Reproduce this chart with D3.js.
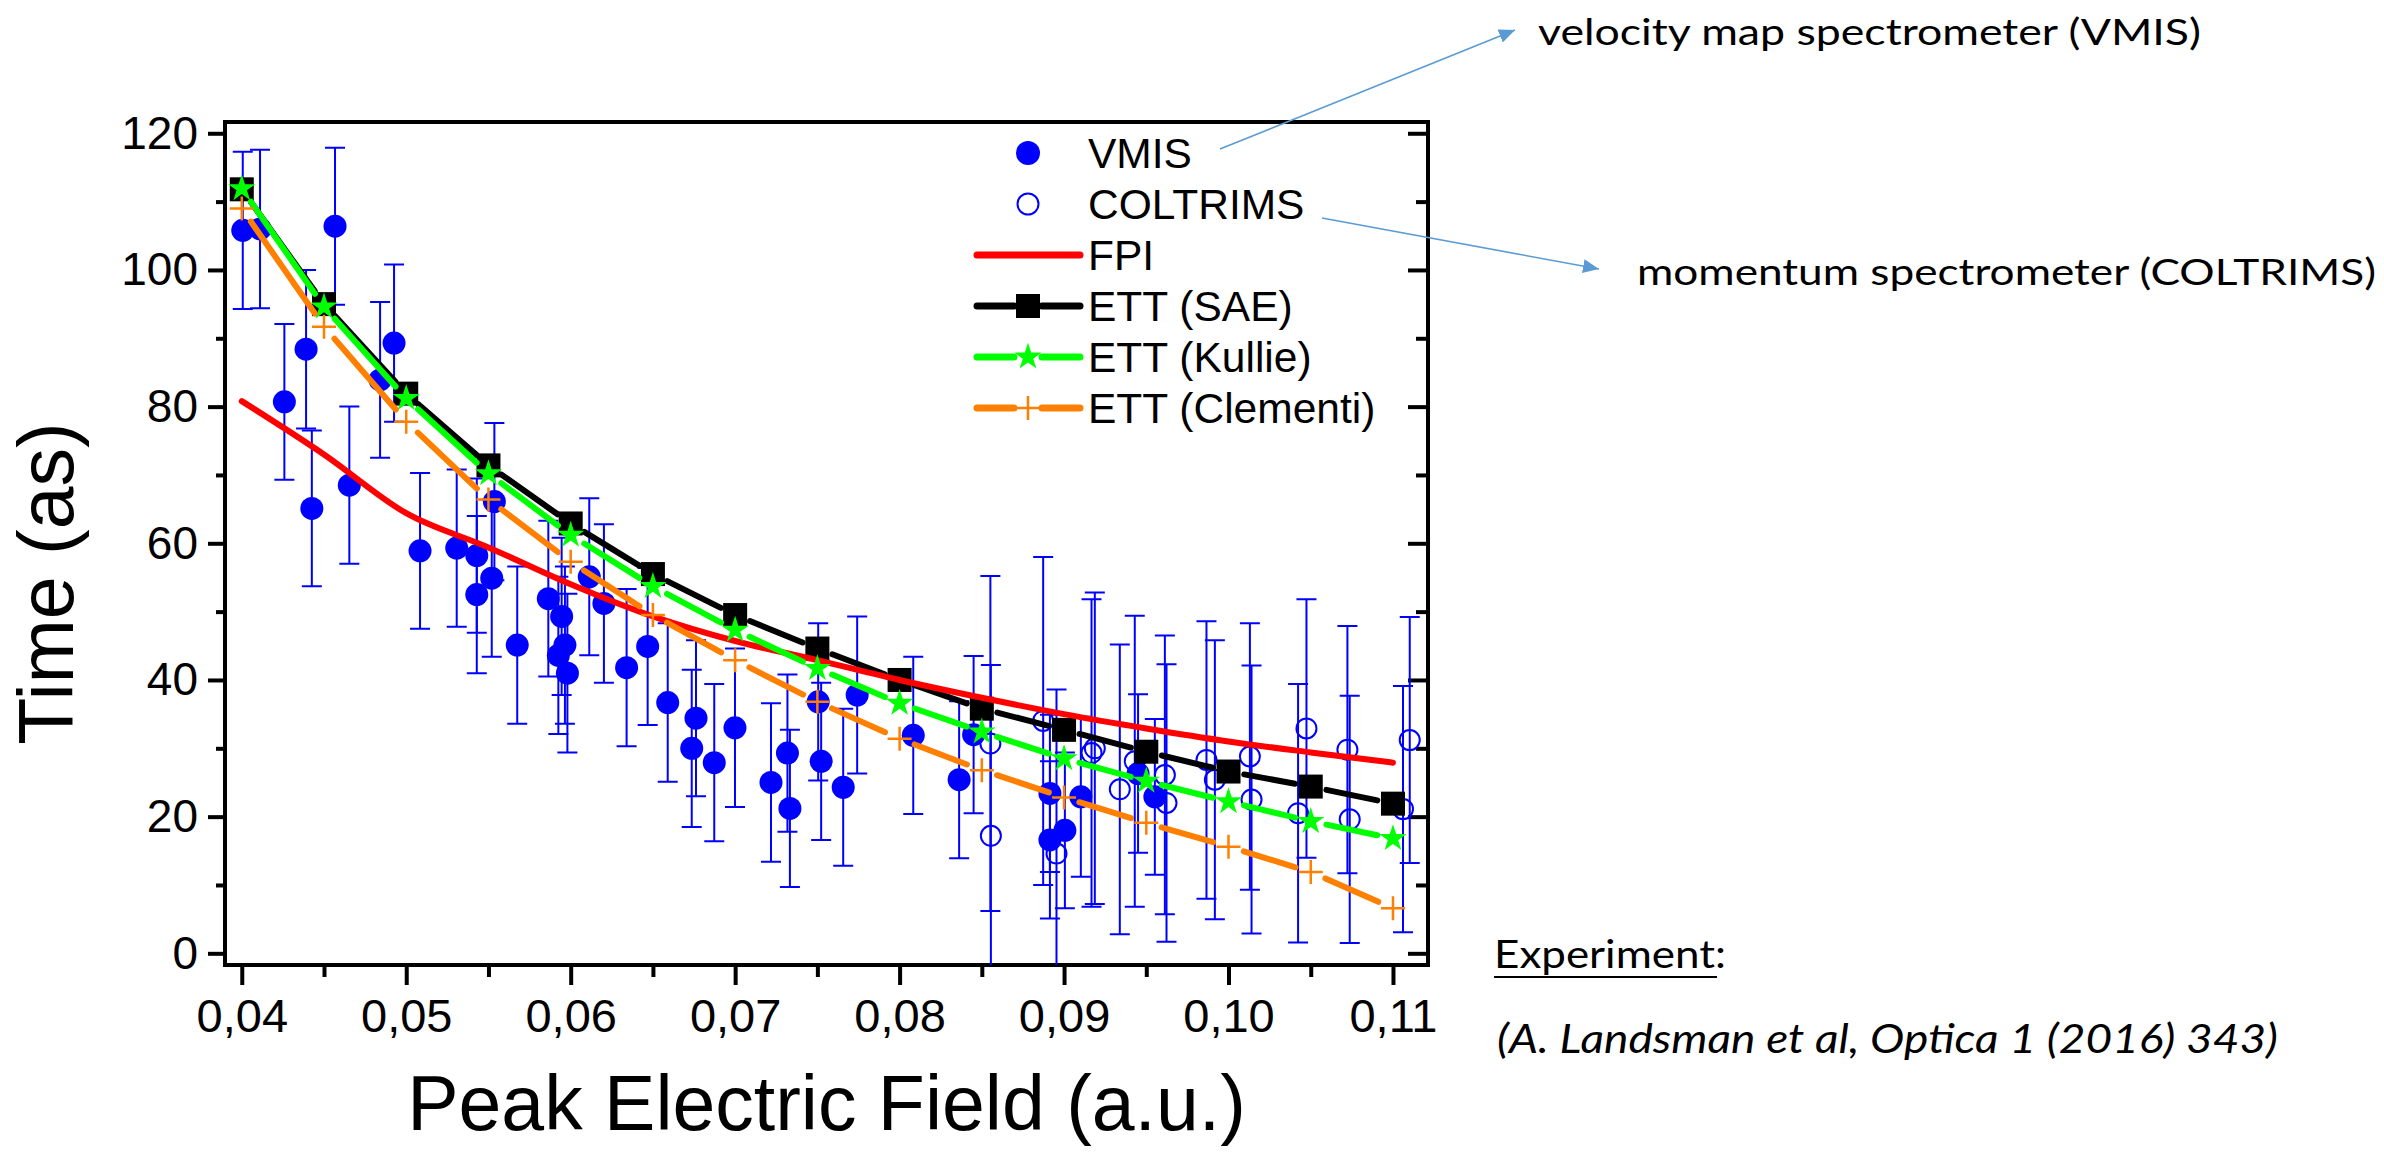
<!DOCTYPE html>
<html>
<head>
<meta charset="utf-8">
<script src="https://cdn.jsdelivr.net/npm/d3@7"></script>
<style>
  body { margin: 0; background: #fff; }
  svg { display: block; }
</style>
</head>
<body>
<svg id="chart" width="2384" height="1153"></svg>
<script>
// ---- data ----
// theory curves, all on the same field grid
var fieldTheory = [0.040, 0.045, 0.050, 0.055, 0.060, 0.065, 0.070, 0.075,
                   0.080, 0.085, 0.090, 0.095, 0.100, 0.105, 0.110];
var fpiTime      = [80.8, 73.0, 64.4, 59.4, 54.0, 49.3, 45.7, 42.9, 40.0, 37.4, 35.0, 32.9, 31.0, 29.4, 27.9];
var ettSae       = [111.8, 95.0, 81.9, 71.4, 62.9, 55.5, 49.5, 44.6, 40.0, 35.8, 32.7, 29.5, 26.6, 24.4, 21.9];
var ettKullie    = [111.9, 94.6, 81.2, 70.2, 61.2, 53.7, 47.3, 41.7, 36.6, 32.4, 28.5, 25.2, 22.2, 19.3, 16.8];
var ettClementi  = [109.0, 91.7, 77.8, 66.4, 57.3, 49.5, 42.9, 36.8, 31.4, 26.8, 22.8, 19.1, 15.6, 11.9, 6.6];

// VMIS (filled circles)
var vmisField = [0.04006, 0.04111, 0.04567, 0.04391, 0.04259, 0.04426, 0.04926, 0.04841, 0.04654,
                 0.05084, 0.05307, 0.05429, 0.05429, 0.05536, 0.05520, 0.05675, 0.05864, 0.05945,
                 0.05925, 0.05965, 0.05980, 0.06113, 0.06202, 0.06340, 0.06468, 0.06590, 0.06762,
                 0.06736, 0.06873, 0.06999, 0.07218, 0.07318, 0.07333, 0.07505, 0.07523, 0.07657,
                 0.07742, 0.08083, 0.08362, 0.08450, 0.08914, 0.08914, 0.09005, 0.09102, 0.09450,
                 0.09552];
var vmisTime  = [105.8, 106.0, 106.4, 88.4, 80.7, 65.1, 89.3, 83.9, 68.5,
                 58.9, 59.3, 58.2, 52.5, 66.1, 54.9, 45.1, 51.9, 49.3,
                 43.6, 45.1, 41.0, 55.1, 51.2, 41.8, 44.9, 36.7, 34.4,
                 30.0, 27.9, 33.0, 25.0, 29.3, 21.2, 36.8, 28.1, 24.3,
                 37.8, 31.9, 25.4, 32.0, 23.4, 16.6, 18.0, 22.9, 26.3,
                 22.9];
var vmisErr   = [11.5, 11.6, 11.5, 11.6, 11.4, 11.4, 11.5, 11.4, 11.5,
                 11.4, 11.5, 11.3, 11.5, 11.5, 11.5, 11.5, 11.4, 11.5,
                 11.5, 11.5, 11.6, 11.5, 11.6, 11.5, 11.5, 11.6, 11.4,
                 11.5, 11.5, 11.6, 11.6, 11.5, 11.5, 11.5, 11.5, 11.5,
                 11.5, 11.5, 11.5, 11.5, 11.5, 11.5, 11.4, 11.7, 11.6,
                 11.4];

// COLTRIMS (open circles)
var coltField = [0.08552, 0.08555, 0.08873, 0.08954, 0.09167, 0.09187, 0.09339, 0.09430, 0.09613, 0.09623,
                 0.09866, 0.09917, 0.10130, 0.10140, 0.10423, 0.10474, 0.10723, 0.10737, 0.11061, 0.11102];
var coltTime  = [30.7, 17.2, 34.0, 14.6, 29.3, 30.0, 24.0, 28.1, 26.1, 22.0,
                 28.3, 25.4, 28.8, 22.5, 20.5, 32.9, 29.8, 19.6, 21.1, 31.2];
var coltErr   = [24.5, 25.0, 24.0, 24.0, 22.5, 22.8, 21.2, 21.3, 20.4, 20.3,
                 20.3, 20.4, 19.5, 19.6, 18.9, 18.9, 18.1, 18.1, 18.0, 18.0];

var xTicks = [0.04, 0.05, 0.06, 0.07, 0.08, 0.09, 0.10, 0.11];
var xMinor = [0.045, 0.055, 0.065, 0.075, 0.085, 0.095, 0.105];
var yTicks = [0, 20, 40, 60, 80, 100, 120];
var yMinor = [10, 30, 50, 70, 90, 110];

var legendLabels = ["VMIS", "COLTRIMS", "FPI", "ETT (SAE)", "ETT (Kullie)", "ETT (Clementi)"];

// ---- setup ----
var blue = "#0000ff", red = "#ff0000", green = "#00ff00", orange = "#ff8000";
var font = "'Liberation Sans', Arial, sans-serif";
var svg = d3.select("#chart");

var plot = {left: 225, right: 1428, top: 122, bottom: 965};
var x = d3.scaleLinear().domain([0.03898, 0.11213]).range([plot.left, plot.right]);
var y = d3.scaleLinear().domain([-1.71, 121.65]).range([plot.bottom, plot.top]);

svg.append("defs").append("clipPath").attr("id", "plotclip")
  .append("rect")
  .attr("x", plot.left).attr("y", plot.top)
  .attr("width", plot.right - plot.left).attr("height", plot.bottom - plot.top);

var comma = d3.formatLocale({decimal: ",", thousands: ".", grouping: [3], currency: ["", ""]}).format(".2f");

function styleAxis(g, size){
  g.select(".domain").remove();
  g.selectAll(".tick line").attr("stroke", "#000").attr("stroke-width", 4);
  g.attr("font-family", font).attr("font-size", size);
  g.selectAll(".tick text").attr("fill", "#000");
}

// bottom axis
svg.append("g").attr("transform", "translate(0," + plot.bottom + ")")
  .call(d3.axisBottom(x).tickValues(xTicks).tickSize(20).tickPadding(14).tickFormat(comma))
  .call(styleAxis, 47);
svg.append("g").attr("transform", "translate(0," + plot.bottom + ")")
  .call(d3.axisBottom(x).tickValues(xMinor).tickSize(12).tickFormat(""))
  .call(styleAxis, 47);

// left axis
svg.append("g").attr("transform", "translate(" + plot.left + ",0)")
  .call(d3.axisLeft(y).tickValues(yTicks).tickSize(17).tickPadding(10))
  .call(styleAxis, 46);
svg.append("g").attr("transform", "translate(" + plot.left + ",0)")
  .call(d3.axisLeft(y).tickValues(yMinor).tickSize(9).tickFormat(""))
  .call(styleAxis, 46);

// right axis, ticks pointing inward
svg.append("g").attr("transform", "translate(" + plot.right + ",0)")
  .call(d3.axisLeft(y).tickValues(yTicks).tickSize(20).tickFormat(""))
  .call(styleAxis, 46);
svg.append("g").attr("transform", "translate(" + plot.right + ",0)")
  .call(d3.axisLeft(y).tickValues(yMinor).tickSize(12).tickFormat(""))
  .call(styleAxis, 46);

// frame
svg.append("rect")
  .attr("x", plot.left).attr("y", plot.top)
  .attr("width", plot.right - plot.left).attr("height", plot.bottom - plot.top)
  .attr("fill", "none").attr("stroke", "#000").attr("stroke-width", 4);

// axis titles
svg.append("text")
  .attr("x", (plot.left + plot.right) / 2).attr("y", 1130)
  .attr("text-anchor", "middle")
  .attr("font-family", font).attr("font-size", 77)
  .text("Peak Electric Field (a.u.)");
svg.append("text")
  .attr("transform", "translate(73," + ((plot.top + plot.bottom) / 2 + 40) + ") rotate(-90)")
  .attr("text-anchor", "middle")
  .attr("font-family", font).attr("font-size", 77)
  .text("Time (as)");

// ---- experimental points ----
var gData = svg.append("g").attr("clip-path", "url(#plotclip)");

function errorBars(g, xs, ys, es){
  var idx = d3.range(xs.length);
  var cap = 10;
  var bars = g.append("g").attr("stroke", blue).attr("stroke-width", 2).attr("fill", "none");
  bars.selectAll("path").data(idx).join("path")
    .attr("d", function(i){
      var px = x(xs[i]), hi = y(ys[i] + es[i]), lo = y(ys[i] - es[i]);
      return "M" + px + "," + hi + "V" + lo +
             "M" + (px - cap) + "," + hi + "H" + (px + cap) +
             "M" + (px - cap) + "," + lo + "H" + (px + cap);
    });
}

errorBars(gData, vmisField, vmisTime, vmisErr);
errorBars(gData, coltField, coltTime, coltErr);

gData.append("g").selectAll("circle").data(d3.range(vmisField.length)).join("circle")
  .attr("cx", function(i){ return x(vmisField[i]); })
  .attr("cy", function(i){ return y(vmisTime[i]); })
  .attr("r", 11.5).attr("fill", blue);

gData.append("g").selectAll("circle").data(d3.range(coltField.length)).join("circle")
  .attr("cx", function(i){ return x(coltField[i]); })
  .attr("cy", function(i){ return y(coltTime[i]); })
  .attr("r", 10).attr("fill", "none").attr("stroke", blue).attr("stroke-width", 2);

// ---- theory curves ----
var gap = 16;
function gappedSegments(xs, ys){
  var segs = [];
  for (var i = 0; i < xs.length - 1; i++){
    var x0 = x(xs[i]), y0 = y(ys[i]), x1 = x(xs[i + 1]), y1 = y(ys[i + 1]);
    var dx = x1 - x0, dy = y1 - y0, len = Math.sqrt(dx * dx + dy * dy);
    if (len <= 2 * gap) continue;
    var ux = dx / len, uy = dy / len;
    segs.push([[x0 + ux * gap, y0 + uy * gap], [x1 - ux * gap, y1 - uy * gap]]);
  }
  return segs;
}

var starSym = d3.symbol().type(d3.symbolStar).size(230);
var plusPath = "M-12,0H12M0,-12V12";

function markerFor(name){
  if (name === "sae") return function(sel){
    sel.append("rect").attr("x", -12).attr("y", -12).attr("width", 24).attr("height", 24).attr("fill", "#000");
  };
  if (name === "kullie") return function(sel){
    sel.append("path").attr("d", starSym()).attr("fill", green);
  };
  return function(sel){
    sel.append("path").attr("d", plusPath).attr("stroke", orange).attr("stroke-width", 2.5).attr("fill", "none");
  };
}

function ettSeries(values, color, name){
  var g = svg.append("g");
  g.selectAll("path.seg").data(gappedSegments(fieldTheory, values)).join("path")
    .attr("class", "seg")
    .attr("d", d3.line())
    .attr("stroke", color).attr("stroke-width", 6).attr("stroke-linecap", "round").attr("fill", "none");
  var m = g.selectAll("g.mk").data(fieldTheory).join("g")
    .attr("class", "mk")
    .attr("transform", function(d, i){ return "translate(" + x(d) + "," + y(values[i]) + ")"; });
  m.each(function(){ markerFor(name)(d3.select(this)); });
}

ettSeries(ettSae, "#000", "sae");

svg.append("path")
  .datum(fieldTheory)
  .attr("d", d3.line()
    .x(function(d){ return x(d); })
    .y(function(d, i){ return y(fpiTime[i]); })
    .curve(d3.curveMonotoneX))
  .attr("fill", "none").attr("stroke", red).attr("stroke-width", 6).attr("stroke-linecap", "round");

ettSeries(ettKullie, green, "kullie");
ettSeries(ettClementi, orange, "clementi");

// ---- legend ----
var legX0 = 977, legX1 = 1080, legMid = 1028, legText = 1088, legTop = 153, legStep = 51;
var leg = svg.append("g");
legendLabels.forEach(function(label, i){
  var cy = legTop + i * legStep;
  var row = leg.append("g").attr("transform", "translate(0," + cy + ")");
  if (i === 0){
    row.append("circle").attr("cx", legMid).attr("r", 12).attr("fill", blue);
  } else if (i === 1){
    row.append("circle").attr("cx", legMid).attr("r", 10.5).attr("fill", "none").attr("stroke", blue).attr("stroke-width", 2);
  } else if (i === 2){
    row.append("line").attr("x1", legX0).attr("x2", legX1)
      .attr("stroke", red).attr("stroke-width", 7).attr("stroke-linecap", "round");
  } else {
    var col = [null, null, null, "#000", green, orange][i];
    var name = [null, null, null, "sae", "kullie", "clementi"][i];
    row.append("line").attr("x1", legX0).attr("x2", legMid - gap + 2)
      .attr("stroke", col).attr("stroke-width", 7).attr("stroke-linecap", "round");
    row.append("line").attr("x1", legMid + gap - 2).attr("x2", legX1)
      .attr("stroke", col).attr("stroke-width", 7).attr("stroke-linecap", "round");
    var mk = row.append("g").attr("transform", "translate(" + legMid + ",0)");
    markerFor(name)(mk);
  }
  row.append("text").attr("x", legText).attr("y", 15)
    .attr("font-family", font).attr("font-size", 42.5).text(label);
});

// ---- annotations ----
var noteBlue = "#5b9bd5";
var noteFont = "Lato, 'Open Sans', sans-serif";
svg.select("defs").append("marker")
  .attr("id", "arrowhead").attr("markerUnits", "userSpaceOnUse")
  .attr("markerWidth", 18).attr("markerHeight", 14)
  .attr("refX", 16).attr("refY", 7).attr("orient", "auto")
  .append("path").attr("d", "M0,0L16,7L0,14Z").attr("fill", noteBlue);

svg.append("line").attr("x1", 1220).attr("y1", 149).attr("x2", 1515).attr("y2", 30)
  .attr("stroke", noteBlue).attr("stroke-width", 1.6).attr("marker-end", "url(#arrowhead)");
svg.append("line").attr("x1", 1322).attr("y1", 218).attr("x2", 1599).attr("y2", 269)
  .attr("stroke", noteBlue).attr("stroke-width", 1.6).attr("marker-end", "url(#arrowhead)");

function note(txt, x0, x1, base, size, italic){
  var t = svg.append("text").attr("x", x0).attr("y", base)
    .attr("font-family", noteFont).attr("font-size", size)
    .attr("textLength", x1 - x0).attr("lengthAdjust", "spacingAndGlyphs")
    .text(txt);
  if (italic) t.attr("font-style", "italic");
  return t;
}
note("velocity map spectrometer (VMIS)", 1538, 2201, 45, 37);
note("momentum spectrometer (COLTRIMS)", 1637, 2376, 285, 37);
note("Experiment:", 1494, 1726, 968, 39);
svg.append("line").attr("x1", 1494).attr("x2", 1717).attr("y1", 977).attr("y2", 977)
  .attr("stroke", "#000").attr("stroke-width", 2);
note("(A. Landsman et al, Optica 1 (2016) 343)", 1497, 2278, 1053, 41, true);
</script>
</body>
</html>
